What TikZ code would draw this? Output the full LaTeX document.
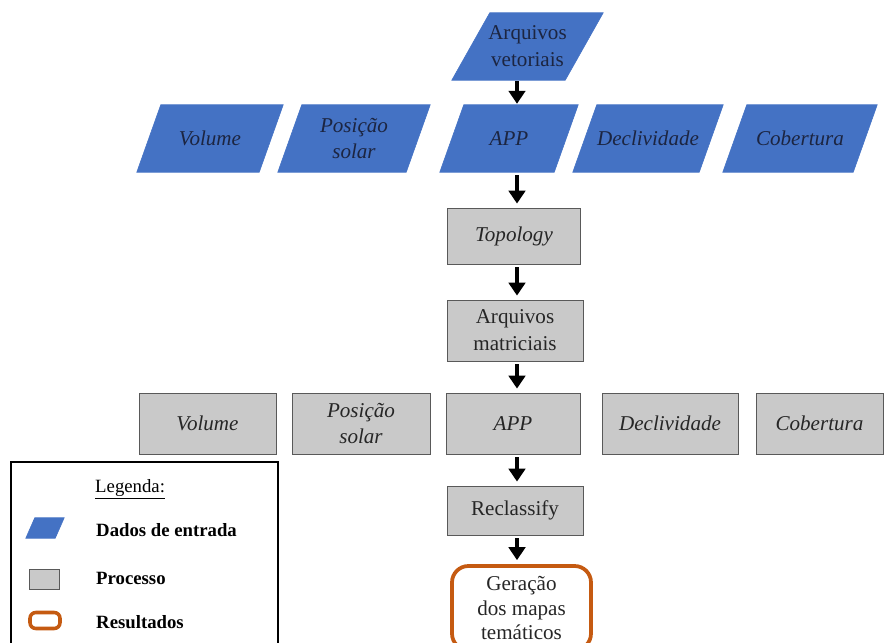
\documentclass[tikz,border=0pt]{standalone}
\usepackage{fontspec}
\setmainfont{Liberation Serif}
\usetikzlibrary{arrows.meta,backgrounds}

\definecolor{inblue}{HTML}{4472C4}
\definecolor{intext}{HTML}{1C2541}
\definecolor{procgray}{HTML}{C9C9C9}
\definecolor{resorange}{HTML}{C55A11}

\def\px{0.03cm}

\tikzset{
    dados/.style={rectangle, inner sep=0pt, align=center, text=intext,
        font=\fontsize{18}{23}\selectfont},
    dadosfill/.style={fill=inblue, draw=inblue, line width=0.5pt},
    processo/.style={rectangle, fill=procgray, draw=black!65, line width=0.7pt,
        inner sep=0pt, align=center, text=black!85, font=\fontsize{18}{23}\selectfont},
    resultado/.style={rectangle, rounded corners=14pt, draw=resorange, line width=3.2pt,
        inner sep=0pt, align=center, text=black!85, font=\fontsize{18}{21}\selectfont},
    flow/.style={-{Triangle[width=14pt,length=11pt]}, line width=3.6pt,
        shorten <=3*\px, shorten >=4*\px},
    legtext/.style={anchor=west, inner sep=0pt, font=\fontsize{16}{19}\selectfont\bfseries}
}

% parallelogram behind a named node, slant in px
\newcommand{\slantbox}[2]{%
    \begin{scope}[on background layer]
        \filldraw[dadosfill] ([xshift=-#2*\px/2]#1.south west) -- ([xshift=-#2*\px/2]#1.south east)
            -- ([xshift=#2*\px/2]#1.north east) -- ([xshift=#2*\px/2]#1.north west) -- cycle;
    \end{scope}}

\begin{document}
\begin{tikzpicture}[x=\px, y=-\px]

    \useasboundingbox (0,0) rectangle (884,643);
    \clip (0,0) rectangle (884,643);

    % Input vector files
    \node[dados, minimum width=113*\px, minimum height=67*\px] (vet) at (527.5,46.5) {Arquivos\\vetoriais};
    \slantbox{vet}{38}

    % First row of input data
    \foreach \nm/\x/\w/\txt in {in1/210/146/Volume, in2/354/152/{Posição\\solar},
        in3/509/138/APP, in4/648/150/Declividade, in5/800/154/Cobertura} {
        \node[dados, font=\fontsize{18}{23}\selectfont\itshape,
            minimum width=\w*\px-24*\px, minimum height=67*\px] (\nm) at (\x,138.5) {\txt};
        \slantbox{\nm}{24}
    }

    % Processing chain
    \node[processo, font=\fontsize{18}{23}\selectfont\itshape,
        minimum width=133*\px, minimum height=56*\px] (topo) at (514,236) {Topology};
    \node[processo, minimum width=136*\px, minimum height=61*\px] (matr) at (515,330.5) {Arquivos\\matriciais};

    % Second row of raster data
    \foreach \nm/\x/\w/\txt in {pr1/207.5/137/Volume, pr2/361/138/{Posição\\solar},
        pr3/513/134/APP, pr4/670/136/Declividade, pr5/819.5/127/Cobertura} {
        \node[processo, font=\fontsize{18}{23}\selectfont\itshape,
            minimum width=\w*\px, minimum height=61*\px] (\nm) at (\x,423.5) {\txt};
    }

    \node[processo, minimum width=136*\px, minimum height=49*\px] (recl) at (515,510.5) {Reclassify};
    \node[resultado, minimum width=139*\px, minimum height=84*\px] (res) at (521.5,608) {Geração\\dos mapas\\temáticos};

    % Arrows down the middle column
    \draw[flow, shorten <=1*\px, shorten >=1*\px] (vet.south -| 517,0) -- (in3.north -| 517,0);
    \draw[flow] (in3.south -| 517,0) -- (topo.north -| 517,0);
    \draw[flow] (topo.south -| 517,0) -- (matr.north -| 517,0);
    \draw[flow] (matr.south -| 517,0) -- (pr3.north -| 517,0);
    \draw[flow] (pr3.south -| 517,0) -- (recl.north -| 517,0);
    \draw[flow] (recl.south -| 517,0) -- (res.north -| 517,0);

    % Legend
    \draw[line width=1.2pt] (11,462) rectangle (278,660);
    \node[anchor=west, inner sep=0pt, font=\fontsize{16}{19}\selectfont] (leg) at (95,489) {\underline{Legenda:}};
    \node[dados, minimum width=29*\px, minimum height=20*\px] (legin) at (45,528) {};
    \slantbox{legin}{9}
    \node[processo, minimum width=30*\px, minimum height=20*\px] (legpr) at (44,579) {};
    \node[resultado, rounded corners=5pt, line width=3pt,
        minimum width=30*\px, minimum height=16*\px] (legres) at (45,620.5) {};
    \node[legtext] (legin-t) at (96,530) {Dados de entrada};
    \node[legtext] (legpr-t) at (96,578) {Processo};
    \node[legtext] (legres-t) at (96,622) {Resultados};

\end{tikzpicture}
\end{document}
